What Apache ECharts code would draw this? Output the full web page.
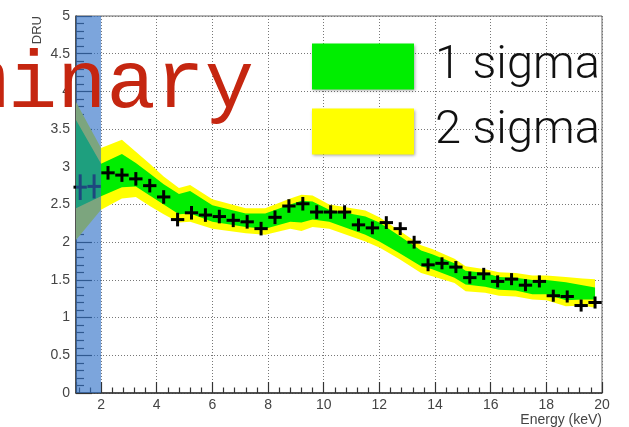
<!DOCTYPE html>
<html><head><meta charset="utf-8">
<script src="https://cdn.jsdelivr.net/npm/echarts@6/dist/echarts.min.js"></script>
<style>html,body{margin:0;padding:0;background:#fff}#c{width:629px;height:427px}</style>
</head><body><div id="c"></div>
<script>
// ---- data ----
const pointX = [1.25,1.75,2.25,2.75,3.25,3.75,4.25,4.75,5.25,5.75,6.25,6.75,7.25,7.75,8.25,8.75,9.25,9.75,10.25,10.75,11.25,11.75,12.25,12.75,13.25,13.75,14.25,14.75,15.25,15.75,16.25,16.75,17.25,17.75,18.25,18.75,19.25,19.75];
const pointY = [2.73,2.74,2.92,2.89,2.84,2.75,2.60,2.30,2.39,2.36,2.34,2.29,2.27,2.18,2.33,2.48,2.51,2.40,2.40,2.40,2.23,2.19,2.26,2.18,2.00,1.70,1.72,1.67,1.53,1.58,1.48,1.51,1.43,1.48,1.29,1.28,1.16,1.20];
const pointYErr = [0.17,0.16,0.09,0.09,0.09,0.09,0.09,0.09,0.09,0.09,0.09,0.09,0.09,0.09,0.09,0.09,0.09,0.09,0.09,0.09,0.085,0.085,0.085,0.085,0.085,0.085,0.08,0.08,0.08,0.08,0.08,0.08,0.08,0.08,0.08,0.08,0.08,0.08];
const binHalfWidth = 0.24;

const bandX      = [1.1,2.0,2.75,3.25,3.75,4.25,4.8,5.2,6.0,7.2,7.9,8.8,9.2,9.6,10.2,11.5,12.0,12.7,13.5,13.9,14.7,15.1,15.8,16.3,16.9,17.5,18.0,18.7,19.3,19.75];
const sigma2High = [3.86,3.25,3.36,3.20,3.04,2.87,2.72,2.76,2.57,2.45,2.45,2.58,2.63,2.62,2.50,2.42,2.33,2.16,1.96,1.91,1.78,1.68,1.64,1.60,1.59,1.56,1.56,1.54,1.52,1.51];
const sigma1High = [3.62,3.04,3.17,3.05,2.91,2.77,2.64,2.68,2.49,2.38,2.38,2.50,2.55,2.54,2.43,2.34,2.26,2.09,1.89,1.84,1.72,1.62,1.59,1.54,1.53,1.50,1.50,1.47,1.43,1.40];
const sigma1Low  = [2.45,2.61,2.73,2.74,2.62,2.50,2.37,2.38,2.27,2.20,2.18,2.27,2.26,2.30,2.27,2.10,2.01,1.86,1.68,1.64,1.53,1.44,1.41,1.37,1.36,1.31,1.31,1.23,1.24,1.24];
const sigma2Low  = [2.03,2.43,2.58,2.60,2.48,2.37,2.26,2.27,2.18,2.12,2.10,2.18,2.15,2.20,2.18,2.01,1.93,1.78,1.59,1.55,1.46,1.35,1.33,1.29,1.28,1.24,1.23,1.15,1.16,1.13];

const blueRegion = [1.1, 2.0];
const xMin = 1.1, xMax = 20, xStep = 2;
const yMin = 0, yMax = 5, yStep = 0.5;
const legendNames = ['1 sigma', '2 sigma'];
const xTitle = 'Energy (keV)', yTitle = 'DRU', watermark = 'Preliminary';

// ---- chart ----
const chart = echarts.init(document.getElementById('c'));

function bandRender(lo, hi) {
  return function (params, api) {
    if (params.dataIndex !== 0) return null;
    const pts = [];
    for (let i = 0; i < bandX.length; i++) pts.push(api.coord([bandX[i], hi[i]]));
    for (let i = bandX.length - 1; i >= 0; i--) pts.push(api.coord([bandX[i], lo[i]]));
    return { type: 'polygon', shape: { points: pts }, style: { fill: api.visual('color') } };
  };
}

const axisColor = '#333';
const labelStyle = { color: '#444', fontSize: 14, fontFamily: 'Liberation Sans' };

const option = {
  animation: false,
  grid: { left: 76, right: 27, top: 16, bottom: 34, show: true, borderColor: '#666', borderWidth: 1 },
  legend: {
    data: legendNames, orient: 'vertical', left: 312, top: 43, padding: 0,
    itemWidth: 102, itemHeight: 46, itemGap: 18, icon: 'rect',
    itemStyle: { shadowBlur: 3, shadowColor: 'rgba(0,0,0,0.35)', shadowOffsetX: 1, shadowOffsetY: 1 },
    textStyle: { fontSize: 47, fontFamily: 'Roboto', fontWeight: 300, color: '#111', lineHeight: 46, padding: [0, 0, 0, 16] },
    selectedMode: false
  },
  xAxis: {
    type: 'value', min: xMin, max: xMax, minInterval: xStep, maxInterval: xStep, splitNumber: 9,
    axisLine: { onZero: false, lineStyle: { color: axisColor, width: 1.5 } },
    axisTick: { inside: true, length: 11, lineStyle: { color: axisColor, width: 1.2 } },
    minorTick: { show: true, splitNumber: 5, length: 5.5, lineStyle: { color: axisColor, width: 1.2 } },
    axisLabel: Object.assign({ margin: 5, showMinLabel: false }, labelStyle),
    splitLine: { show: true, lineStyle: { color: '#777', width: 1, type: [1, 2] } }
  },
  yAxis: {
    type: 'value', min: yMin, max: yMax, interval: yStep,
    axisLine: { show: true, lineStyle: { color: axisColor, width: 1.5 } },
    axisTick: { show: true, inside: true, length: 16, lineStyle: { color: axisColor, width: 1.2 } },
    minorTick: { show: true, splitNumber: 5, length: 8, lineStyle: { color: axisColor, width: 1.2 } },
    axisLabel: Object.assign({ margin: 6 }, labelStyle),
    splitLine: { show: true, lineStyle: { color: '#777', width: 1, type: [1, 2] } }
  },
  series: [
    {
      name: '2 sigma', type: 'custom', z: 2, silent: true,
      itemStyle: { color: '#ffff00' },
      data: bandX.map((x, i) => [x, sigma2Low[i], sigma2High[i]]),
      encode: { x: 0, y: [1, 2] },
      renderItem: bandRender(sigma2Low, sigma2High)
    },
    {
      name: '1 sigma', type: 'custom', z: 3, silent: true,
      itemStyle: { color: '#00ee00' },
      data: bandX.map((x, i) => [x, sigma1Low[i], sigma1High[i]]),
      encode: { x: 0, y: [1, 2] },
      renderItem: bandRender(sigma1Low, sigma1High)
    },
    {
      name: 'data', type: 'custom', z: 4, silent: true,
      itemStyle: { color: '#000' },
      data: pointX.map((x, i) => [x, pointY[i], pointYErr[i]]),
      encode: { x: 0, y: 1 },
      renderItem: function (params, api) {
        const x = api.value(0), y = api.value(1), e = api.value(2);
        const l = api.coord([x - binHalfWidth, y]), r = api.coord([x + binHalfWidth, y]);
        const t = api.coord([x, y + e]), b = api.coord([x, y - e]);
        return { type: 'group', children: [
          { type: 'line', shape: { x1: l[0], y1: l[1], x2: r[0], y2: r[1] }, style: { stroke: '#000', lineWidth: 3 } },
          { type: 'line', shape: { x1: t[0], y1: t[1], x2: b[0], y2: b[1] }, style: { stroke: '#000', lineWidth: 3 } }
        ] };
      }
    },
    {
      name: 'region', type: 'custom', z: 5, silent: true,
      data: [blueRegion],
      encode: { x: [0, 1] },
      renderItem: function (params, api) {
        const a = api.coord([api.value(0), yMax]), b = api.coord([api.value(1), yMin]);
        return { type: 'rect', shape: { x: a[0], y: a[1], width: b[0] - a[0], height: b[1] - a[1] },
                 style: { fill: 'rgba(48,112,199,0.63)' } };
      }
    }
  ],
  graphic: [
    { type: 'text', x: 254, y: 85, z: 100, silent: true,
      style: { text: watermark, fontSize: 82, fontFamily: '"Liberation Mono", monospace', fill: '#c52610', textAlign: 'right', textVerticalAlign: 'middle' } },
    { type: 'text', x: 602, y: 420, z: 50, silent: true,
      style: { text: xTitle, fontSize: 14, fontFamily: 'Liberation Sans', fill: '#444', textAlign: 'right', textVerticalAlign: 'middle' } },
    { type: 'text', x: 37, y: 16, z: 50, rotation: Math.PI / 2, silent: true,
      style: { text: yTitle, fontSize: 13, fontFamily: 'Liberation Sans', fill: '#444', textAlign: 'right', textVerticalAlign: 'middle' } }
  ]
};
chart.setOption(option);
</script>
</body></html>
